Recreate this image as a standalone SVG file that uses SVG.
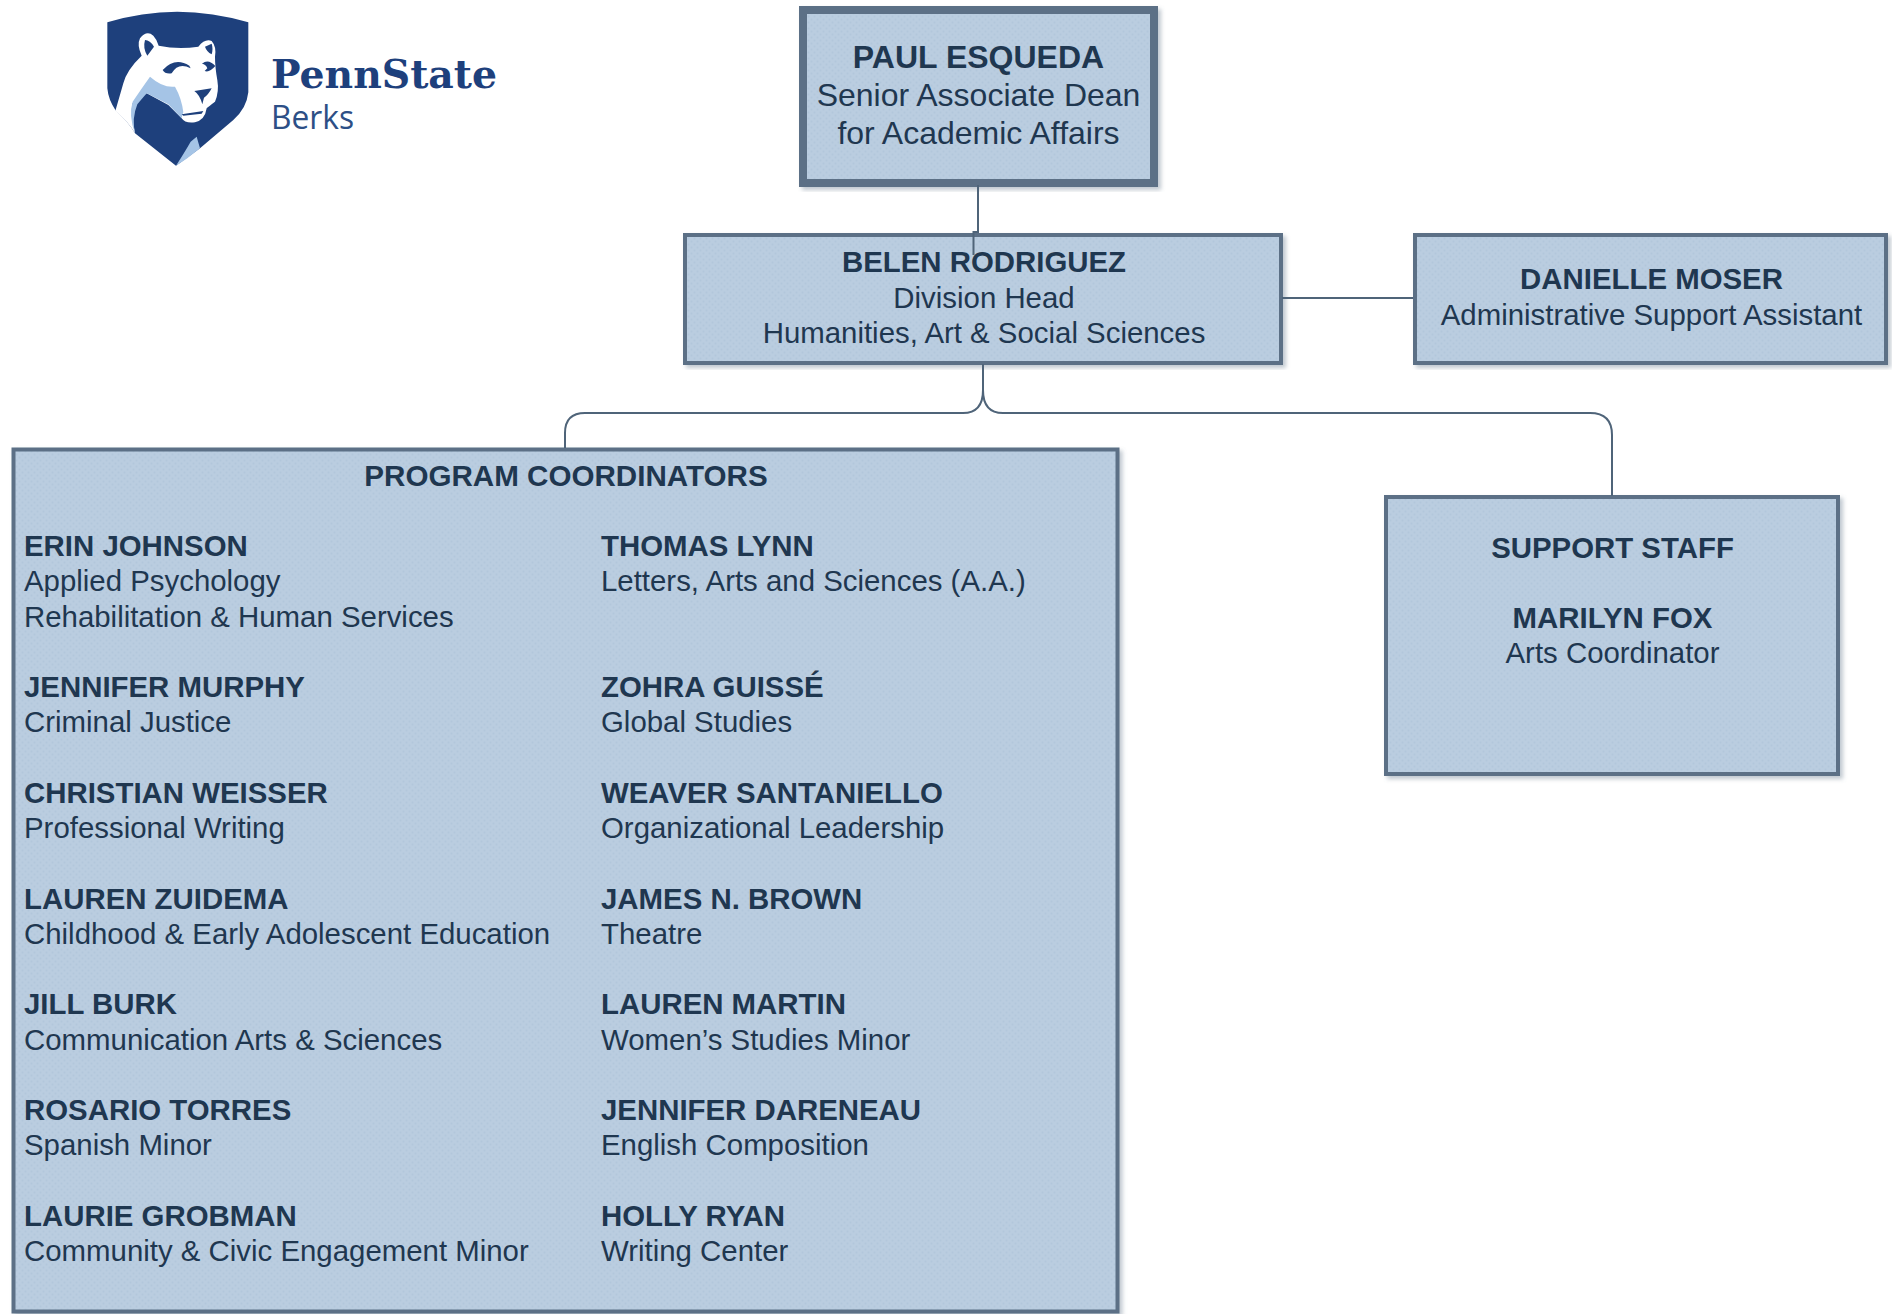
<svg xmlns="http://www.w3.org/2000/svg" width="1892" height="1314" viewBox="0 0 1892 1314">
<defs>
<pattern id="dots" width="6" height="6" patternUnits="userSpaceOnUse">
<rect width="6" height="6" fill="#bacde0"/>
<circle cx="1.5" cy="1.5" r="1" fill="#b2c7db"/>
<circle cx="4.500" cy="4.500" r="1" fill="#b2c7db"/>
</pattern>
<filter id="shadow" x="-5%" y="-5%" width="110%" height="110%">
<feDropShadow dx="3" dy="3" stdDeviation="2" flood-color="#5f7388" flood-opacity=".4"/>
</filter>
</defs>
<style>
text{font-family:"Liberation Sans",Arial,sans-serif;fill:#1f3750;font-size:29.4px}
.b{font-weight:700;font-size:29.4px}
.c{text-anchor:middle}
.big{font-size:32px}
.box{fill:url(#dots);stroke:#5b7086;stroke-width:4;filter:url(#shadow)}
.conn{fill:none;stroke:#4f6479;stroke-width:2}
</style>
<rect width="1892" height="1314" fill="#fff"/>
<g id="logo">
<g transform="translate(100 5) scale(.3333)">
<path d="M22 52Q230 -12 445 52L445 262Q440 310 400 345L300 430L228 482L105 385Q85 350 48 318Q25 285 22 250Z" fill="#1e407c"/>
<path d="M46 318Q60 270 70 235Q80 195 125 152Q110 120 120 100Q140 75 160 92Q172 105 176 122Q235 135 295 125Q315 100 335 108Q350 125 345 155Q345 185 352 225Q358 260 345 290Q325 305 320 310Q315 345 285 352Q255 356 245 340L205 300L140 265L105 290L98 295Q92 325 105 385Q85 350 46 318Z" fill="#fff"/>
<path d="M98 290Q125 250 150 215Q190 250 225 245Q245 280 250 322Q245 335 245 340L205 298L140 265L112 298Q95 340 105 385Q85 330 98 290Z" fill="#a5c4e6"/>
<path d="M228 482Q255 440 272 410L290 395L300 430L262 460Z" fill="#a5c4e6"/>
<path d="M135 105Q150 105 162 125L142 152Q128 130 135 105ZM315 125L335 116Q340 130 335 148Q320 140 315 125ZM188 195Q225 155 268 182L272 190Q235 170 215 205Q195 208 188 195ZM306 176Q325 160 346 183Q328 204 314 198L322 190Q318 178 306 176ZM283 258L335 250Q325 270 312 278L307 298Q300 270 283 258ZM245 328L310 318L305 326L250 332Z" fill="#1e407c"/>
</g>
<text x="271" y="88" style="font-family:'DejaVu Serif',serif;font-weight:700;font-size:39px;fill:#1e407c" textLength="226" lengthAdjust="spacingAndGlyphs">PennState</text>
<text x="271" y="129" style="font-family:'Open Sans',sans-serif;font-size:32px;fill:#2d4f86" textLength="83" lengthAdjust="spacingAndGlyphs">Berks</text>
</g>
<g id="paul">
<rect class="box" x="803" y="10" width="351" height="173" style="stroke-width:8"/>
<text class="b c big" x="978.500" y="68">PAUL ESQUEDA</text>
<text class="c big" x="978.500" y="106">Senior Associate Dean</text>
<text class="c big" x="978.500" y="144">for Academic Affairs</text>
</g>
<g id="belen">
<rect class="box" x="685" y="235" width="596" height="128"/>
<text class="b c" x="984" y="272">BELEN RODRIGUEZ</text>
<text class="c" x="984" y="308">Division Head</text>
<text class="c" x="984" y="343">Humanities, Art &amp; Social Sciences</text>
</g>
<g id="danielle">
<rect class="box" x="1415" y="235" width="471" height="128"/>
<text class="b c" x="1651.500" y="289">DANIELLE MOSER</text>
<text class="c" x="1651.500" y="325">Administrative Support Assistant</text>
</g>
<g id="support">
<rect class="box" x="1386" y="497" width="452" height="277"/>
<text class="b c" x="1612.500" y="558">SUPPORT STAFF</text>
<text class="b c" x="1612.500" y="628">MARILYN FOX</text>
<text class="c" x="1612.500" y="663">Arts Coordinator</text>
</g>
<g id="coordinators">
<rect class="box" x="13.500" y="449.500" width="1104" height="862"/>
<text class="b c" x="566" y="486" style="font-size:29.6px">PROGRAM COORDINATORS</text>
<g>
<text class="b" x="24" y="556">ERIN JOHNSON</text>
<text x="24" y="590.500">Applied Psychology</text>
<text x="24" y="627">Rehabilitation &amp; Human Services</text>
<text class="b" x="24" y="697">JENNIFER MURPHY</text>
<text x="24" y="731.500">Criminal Justice</text>
<text class="b" x="24" y="803">CHRISTIAN WEISSER</text>
<text x="24" y="837.500">Professional Writing</text>
<text class="b" x="24" y="909">LAUREN ZUIDEMA</text>
<text x="24" y="943.500">Childhood &amp; Early Adolescent Education</text>
<text class="b" x="24" y="1014">JILL BURK</text>
<text x="24" y="1050">Communication Arts &amp; Sciences</text>
<text class="b" x="24" y="1120">ROSARIO TORRES</text>
<text x="24" y="1154.500">Spanish Minor</text>
<text class="b" x="24" y="1226">LAURIE GROBMAN</text>
<text x="24" y="1260.500">Community &amp; Civic Engagement Minor</text>
</g>
<g>
<text class="b" x="601" y="556">THOMAS LYNN</text>
<text x="601" y="590.500">Letters, Arts and Sciences (A.A.)</text>
<text class="b" x="601" y="697">ZOHRA GUISSÉ</text>
<text x="601" y="731.500">Global Studies</text>
<text class="b" x="601" y="803">WEAVER SANTANIELLO</text>
<text x="601" y="837.500">Organizational Leadership</text>
<text class="b" x="601" y="909">JAMES N. BROWN</text>
<text x="601" y="943.500">Theatre</text>
<text class="b" x="601" y="1014">LAUREN MARTIN</text>
<text x="601" y="1050">Women’s Studies Minor</text>
<text class="b" x="601" y="1120">JENNIFER DARENEAU</text>
<text x="601" y="1154.500">English Composition</text>
<text class="b" x="601" y="1226">HOLLY RYAN</text>
<text x="601" y="1260.500">Writing Center</text>
</g>
</g>
<g id="connectors">
<path class="conn" d="M978 185V232H973.500V255"/>
<path class="conn" d="M983 364V390"/>
<path class="conn" d="M983 390Q983 413 963 413H585Q565 413 565 433V448"/>
<path class="conn" d="M983 390Q983 413 1003 413H1590Q1612 413 1612 435V496"/>
<path class="conn" d="M1282 298H1413"/>
</g>
</svg>
